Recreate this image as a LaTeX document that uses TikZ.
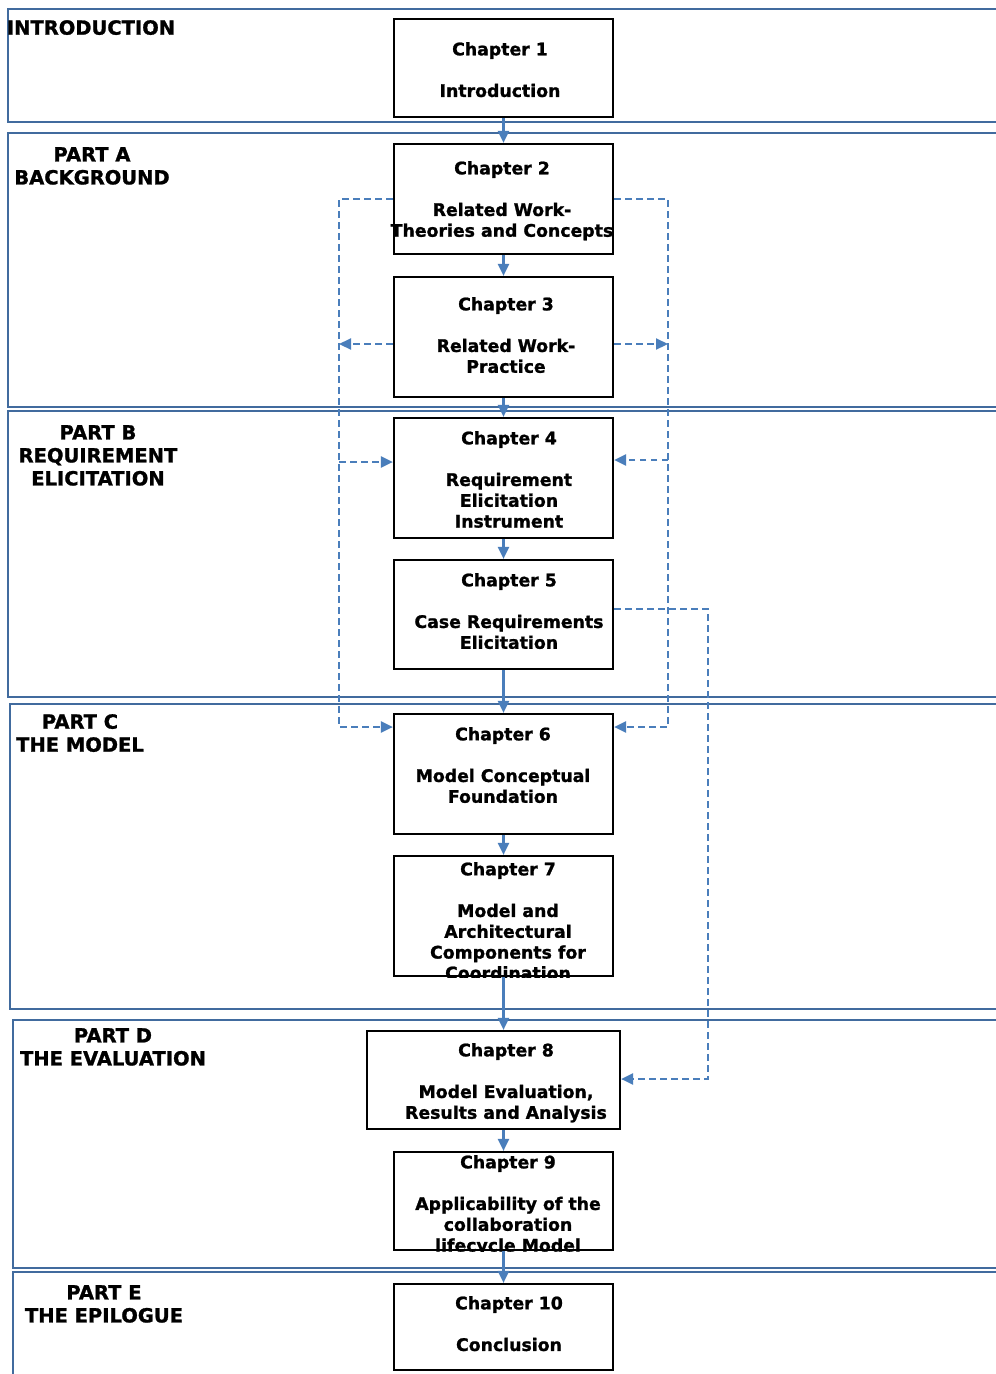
\documentclass[tikz,border=0pt]{standalone}
\usepackage{fontspec}
\setmainfont{DejaVu Sans}[BoldFeatures={FakeBold=1.2}]
\usetikzlibrary{arrows.meta}
\definecolor{framecol}{RGB}{65,107,158}
\definecolor{linkcol}{RGB}{74,126,187}
\begin{document}
\begin{tikzpicture}[x=1pt,y=-1pt,
  frame/.style={draw=framecol, line width=2.4pt},
  chbox/.style={draw=black, line width=2.2pt, minimum width=219pt, inner sep=0pt},
  chtext/.style={align=center, font=\fontsize{17.3}{20.8}\selectfont\bfseries, inner sep=0pt, anchor=north},
  parttext/.style={align=center, font=\fontsize{19.5}{23}\selectfont\bfseries, inner sep=0pt, anchor=north},
  flow/.style={draw=linkcol, line width=2.2pt, -{Triangle[length=12pt,width=11pt]}},
  link/.style={draw=linkcol, line width=2.2pt, dash pattern=on 6.5pt off 4.5pt},
  linkarrow/.style={link, -{Triangle[length=12pt,width=11pt]}}]

\useasboundingbox (0,0) rectangle (996,1374);
\fill[white] (0,0) rectangle (996,1374);

% section frames (open to the right)
\draw[frame] (1000,9) -- (8,9) -- (8,122) -- (1000,122);
\draw[frame] (1000,133) -- (8,133) -- (8,407) -- (1000,407);
\draw[frame] (1000,411) -- (8,411) -- (8,697) -- (1000,697);
\draw[frame] (1000,704) -- (10,704) -- (10,1009) -- (1000,1009);
\draw[frame] (1000,1020) -- (13,1020) -- (13,1268) -- (1000,1268);
\draw[frame] (1000,1272) -- (13,1272) -- (13,1380);

% section labels
\node[parttext] (lintro) at (91,20) {INTRODUCTION};
\node[parttext] (lparta) at (92,147) {PART A\\BACKGROUND};
\node[parttext] (lpartb) at (98,425) {PART B\\REQUIREMENT\\ELICITATION};
\node[parttext] (lpartc) at (80,714) {PART C\\THE MODEL};
\node[parttext] (lpartd) at (113,1028) {PART D\\THE EVALUATION};
\node[parttext] (lparte) at (104,1285) {PART E\\THE EPILOGUE};

% chapter boxes
\node[chbox, minimum height=98pt] (ch1) at (503.5,68) {};
\node[chbox, minimum height=110pt] (ch2) at (503.5,199) {};
\node[chbox, minimum height=120pt] (ch3) at (503.5,337) {};
\node[chbox, minimum height=120pt] (ch4) at (503.5,478) {};
\node[chbox, minimum height=109pt] (ch5) at (503.5,614.5) {};
\node[chbox, minimum height=120pt] (ch6) at (503.5,774) {};
\node[chbox, minimum height=120pt] (ch7) at (503.5,916) {};
\node[chbox, minimum height=98pt, minimum width=253pt] (ch8) at (493.5,1080) {};
\node[chbox, minimum height=98pt] (ch9) at (503.5,1201) {};
\node[chbox, minimum height=86pt] (ch10) at (503.5,1327) {};

% chapter texts
\node[chtext] (t1) at (500,42) {Chapter 1\\[20.8pt]Introduction};
\node[chtext] (t2) at (502,161) {Chapter 2\\[20.8pt]Related Work-\\Theories and Concepts};
\node[chtext] (t3) at (506,297) {Chapter 3\\[20.8pt]Related Work-\\Practice};
\node[chtext] (t4) at (509,431) {Chapter 4\\[20.8pt]Requirement\\Elicitation\\Instrument};
\node[chtext] (t5) at (509,573) {Chapter 5\\[20.8pt]Case Requirements\\Elicitation};
\node[chtext] (t6) at (503,727) {Chapter 6\\[20.8pt]Model Conceptual\\Foundation};
\begin{scope}
  \clip (ch7.north west) rectangle (ch7.south east);
  \node[chtext] (t7) at (508,862) {Chapter 7\\[20.8pt]Model and\\Architectural\\Components for\\Coordination};
\end{scope}
\node[chtext] (t8) at (506,1043) {Chapter 8\\[20.8pt]Model Evaluation,\\Results and Analysis};
\begin{scope}
  \clip (ch9.north west) rectangle (ch9.south east);
  \node[chtext] (t9) at (508,1155) {Chapter 9\\[20.8pt]Applicability of the\\collaboration\\lifecycle Model};
\end{scope}
\node[chtext] (t10) at (509,1296) {Chapter 10\\[20.8pt]Conclusion};

% main reading flow
\draw[flow] (ch1) -- (ch2);
\draw[flow] (ch2) -- (ch3);
\draw[flow] (ch3) -- (ch4);
\draw[flow] (ch4) -- (ch5);
\draw[flow] (ch5) -- (ch6);
\draw[flow] (ch6) -- (ch7);
\draw[flow] (ch7.south) -- (ch7.south |- ch8.north);
\draw[flow] (ch8.south -| ch9) -- (ch9.north);
\draw[flow] (ch9) -- (ch10);

% dashed cross references, left side
\coordinate (lt) at (339,199);
\coordinate (lb) at (339,727);
\coordinate (lm) at (339,462);
\coordinate (l3) at (339,344);
\draw[linkarrow] (ch2.west) -- (lt) -- (lb) -- (ch6.west |- lb);
\draw[linkarrow] (lm) -- (ch4.west |- lm);
\draw[linkarrow] (ch3.west |- l3) -- (l3);

% dashed cross references, right side
\coordinate (rt) at (668,199);
\coordinate (rb) at (668,727);
\coordinate (rm) at (668,460);
\coordinate (r3) at (668,344);
\draw[linkarrow] (ch2.east) -- (rt) -- (rb) -- (ch6.east |- rb);
\draw[linkarrow] (rm) -- (ch4.east |- rm);
\draw[linkarrow] (ch3.east |- r3) -- (r3);

% dashed link from chapter 5 to chapter 8
\coordinate (ft) at (708,609);
\coordinate (fb) at (708,1079);
\draw[linkarrow] (ch5.east |- ft) -- (ft) -- (fb) -- (ch8.east |- fb);
\end{tikzpicture}
\end{document}
